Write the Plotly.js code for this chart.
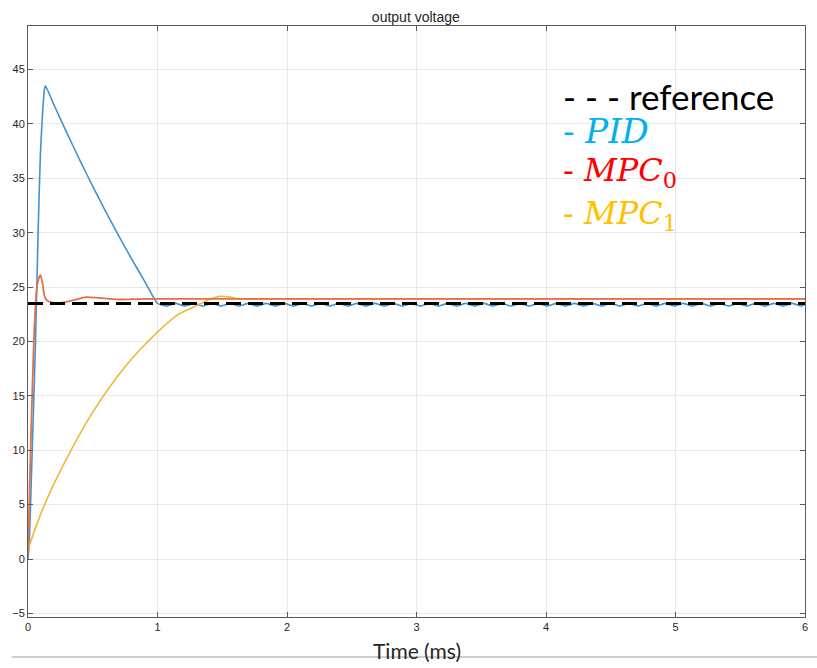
<!DOCTYPE html>
<html>
<head>
<meta charset="utf-8">
<script src="https://cdn.plot.ly/plotly-3.0.1.min.js"></script>
<style>html,body{margin:0;padding:0;background:#fff;}#chart{width:817px;height:668px;}</style>
</head>
<body>
<div id="chart"></div>
<script>
// ---- data ----
const refTime = [0, 6];
const refValue = [23.5, 23.5];

const pidTime = [0, 0.01, 0.03, 0.058, 0.078, 0.095, 0.11, 0.125, 0.135, 0.2, 0.3, 0.4, 0.5, 0.6, 0.7, 0.8, 0.9, 1.0,
  1.07, 1.14, 1.21, 1.28, 1.35, 1.42, 1.49, 1.56, 1.63, 1.70, 1.77, 1.84, 1.91, 1.98, 2.05, 2.12, 2.19, 2.26, 2.33, 2.40,
  2.47, 2.54, 2.61, 2.68, 2.75, 2.82, 2.89, 2.96, 3.03, 3.10, 3.17, 3.24, 3.31, 3.38, 3.45, 3.52, 3.59, 3.66, 3.73, 3.80,
  3.87, 3.94, 4.01, 4.08, 4.15, 4.22, 4.29, 4.36, 4.43, 4.50, 4.57, 4.64, 4.71, 4.78, 4.85, 4.92, 4.99, 5.06, 5.13, 5.20,
  5.27, 5.34, 5.41, 5.48, 5.55, 5.62, 5.69, 5.76, 5.83, 5.90, 5.97, 6.0];
const pidValue = [0, 1.5, 9, 20, 30, 37, 40.5, 43, 43.5, 41.76, 39.17, 36.67, 34.26, 31.94, 29.72, 27.59, 25.55, 23.5,
  23.25, 23.5, 23.25, 23.5, 23.25, 23.5, 23.25, 23.5, 23.25, 23.5, 23.25, 23.5, 23.25, 23.5, 23.25, 23.5, 23.25, 23.5, 23.25, 23.5,
  23.25, 23.5, 23.25, 23.5, 23.25, 23.5, 23.25, 23.5, 23.25, 23.5, 23.25, 23.5, 23.25, 23.5, 23.25, 23.5, 23.25, 23.5, 23.25, 23.5,
  23.25, 23.5, 23.25, 23.5, 23.25, 23.5, 23.25, 23.5, 23.25, 23.5, 23.25, 23.5, 23.25, 23.5, 23.25, 23.5, 23.25, 23.5, 23.25, 23.5,
  23.25, 23.5, 23.25, 23.5, 23.25, 23.5, 23.25, 23.5, 23.25, 23.5, 23.25, 23.4];

const mpc0Time = [0, 0.02, 0.045, 0.065, 0.08, 0.096, 0.11, 0.125, 0.14, 0.18, 0.25, 0.35, 0.45, 0.55, 0.7, 0.85, 1.0, 2, 3, 4, 5, 6];
const mpc0Value = [0.3, 10, 20, 24.5, 25.7, 26.1, 25.5, 24.3, 23.85, 23.6, 23.55, 23.8, 24.08, 24.0, 23.86, 23.9, 23.92, 23.92, 23.92, 23.92, 23.92, 23.92];

const mpc1Time = [0, 0.1, 0.2, 0.34, 0.5, 0.687, 0.85, 1.0, 1.15, 1.25, 1.33, 1.4, 1.484, 1.55, 1.61, 1.7, 1.8, 2, 3, 4, 5, 6];
const mpc1Value = [0.9, 4.2, 6.9, 10.18, 13.5, 16.73, 19.05, 20.86, 22.4, 23.0, 23.46, 23.85, 24.15, 24.1, 23.95, 23.88, 23.9, 23.9, 23.9, 23.9, 23.9, 23.9];

const xTicks = [0, 1, 2, 3, 4, 5, 6];
const yTicks = [-5, 0, 5, 10, 15, 20, 25, 30, 35, 40, 45];

const chartTitle = 'output voltage';
const xTitle = 'Time (ms)';
const legendLabels = ['- - - reference', '- <i>PID</i>', '- <i>MPC</i><sub>0</sub>', '- <i>MPC</i><sub>1</sub>'];
const legendColors = ['#000000', '#00b0f0', '#ff0000', '#ffc000'];

// ---- traces ----
const traces = [
  {x: pidTime, y: pidValue, type: 'scatter', mode: 'lines', name: 'PID',
   line: {color: '#4393d3', width: 1.6, shape: 'spline', smoothing: 0.4}},
  {x: mpc1Time, y: mpc1Value, type: 'scatter', mode: 'lines', name: 'MPC1',
   line: {color: '#f0b83a', width: 1.6, shape: 'spline', smoothing: 0.8}},
  {x: mpc0Time, y: mpc0Value, type: 'scatter', mode: 'lines', name: 'MPC0',
   line: {color: '#e0714a', width: 1.8, shape: 'spline', smoothing: 0.5}},
  {x: refTime, y: refValue, type: 'scatter', mode: 'lines', name: 'reference',
   line: {color: '#000000', width: 3, dash: '15px,7px'}}
];

const legendY = [0.882, 0.822, 0.753, 0.680];
const legendSize = [35, 34, 32, 32];
const annotations = legendLabels.map((t, i) => ({
  text: t, xref: 'paper', yref: 'paper', x: 0.686, y: legendY[i],
  xanchor: 'left', yanchor: 'middle', showarrow: false,
  font: i === 0 ? {family: 'Lato, Open Sans, sans-serif', size: legendSize[i], color: legendColors[i]}
               : {family: 'DejaVu Serif, serif', size: legendSize[i], color: legendColors[i]}
}));
annotations.push({
  text: xTitle, xref: 'paper', yref: 'paper', x: 0.5, y: -0.056,
  xanchor: 'center', yanchor: 'middle', showarrow: false,
  font: {family: 'Lato, Open Sans, sans-serif', size: 21, color: '#262626'}
});

const axisCommon = {
  showline: true, linecolor: '#5a5a5a', linewidth: 1, mirror: 'ticks',
  ticks: 'inside', ticklen: 5, tickcolor: '#5a5a5a', tickwidth: 1,
  showgrid: true, gridcolor: '#e8e8e8', gridwidth: 1, zeroline: false,
  tickfont: {family: 'Liberation Sans, Arial, sans-serif', size: 11, color: '#262626'}
};

const layout = {
  width: 817, height: 668,
  margin: {l: 28, r: 12, t: 26, b: 51},
  paper_bgcolor: '#ffffff', plot_bgcolor: '#ffffff',
  showlegend: false,
  title: {text: chartTitle, x: 0.509, xanchor: 'center', y: 0.974, yanchor: 'middle',
          font: {family: 'Liberation Sans, Arial, sans-serif', size: 14, color: '#262626'}},
  xaxis: Object.assign({}, axisCommon, {range: [0, 6], tickvals: xTicks}),
  yaxis: Object.assign({}, axisCommon, {range: [-5.33, 49], tickvals: yTicks}),
  annotations: annotations,
  shapes: [{type: 'line', xref: 'paper', yref: 'paper', x0: -0.021, x1: 1.02, y0: -0.0677, y1: -0.0677,
            line: {color: '#bfbfbf', width: 1.5}}]
};

Plotly.newPlot('chart', traces, layout, {displayModeBar: false, staticPlot: true});
</script>
</body>
</html>
